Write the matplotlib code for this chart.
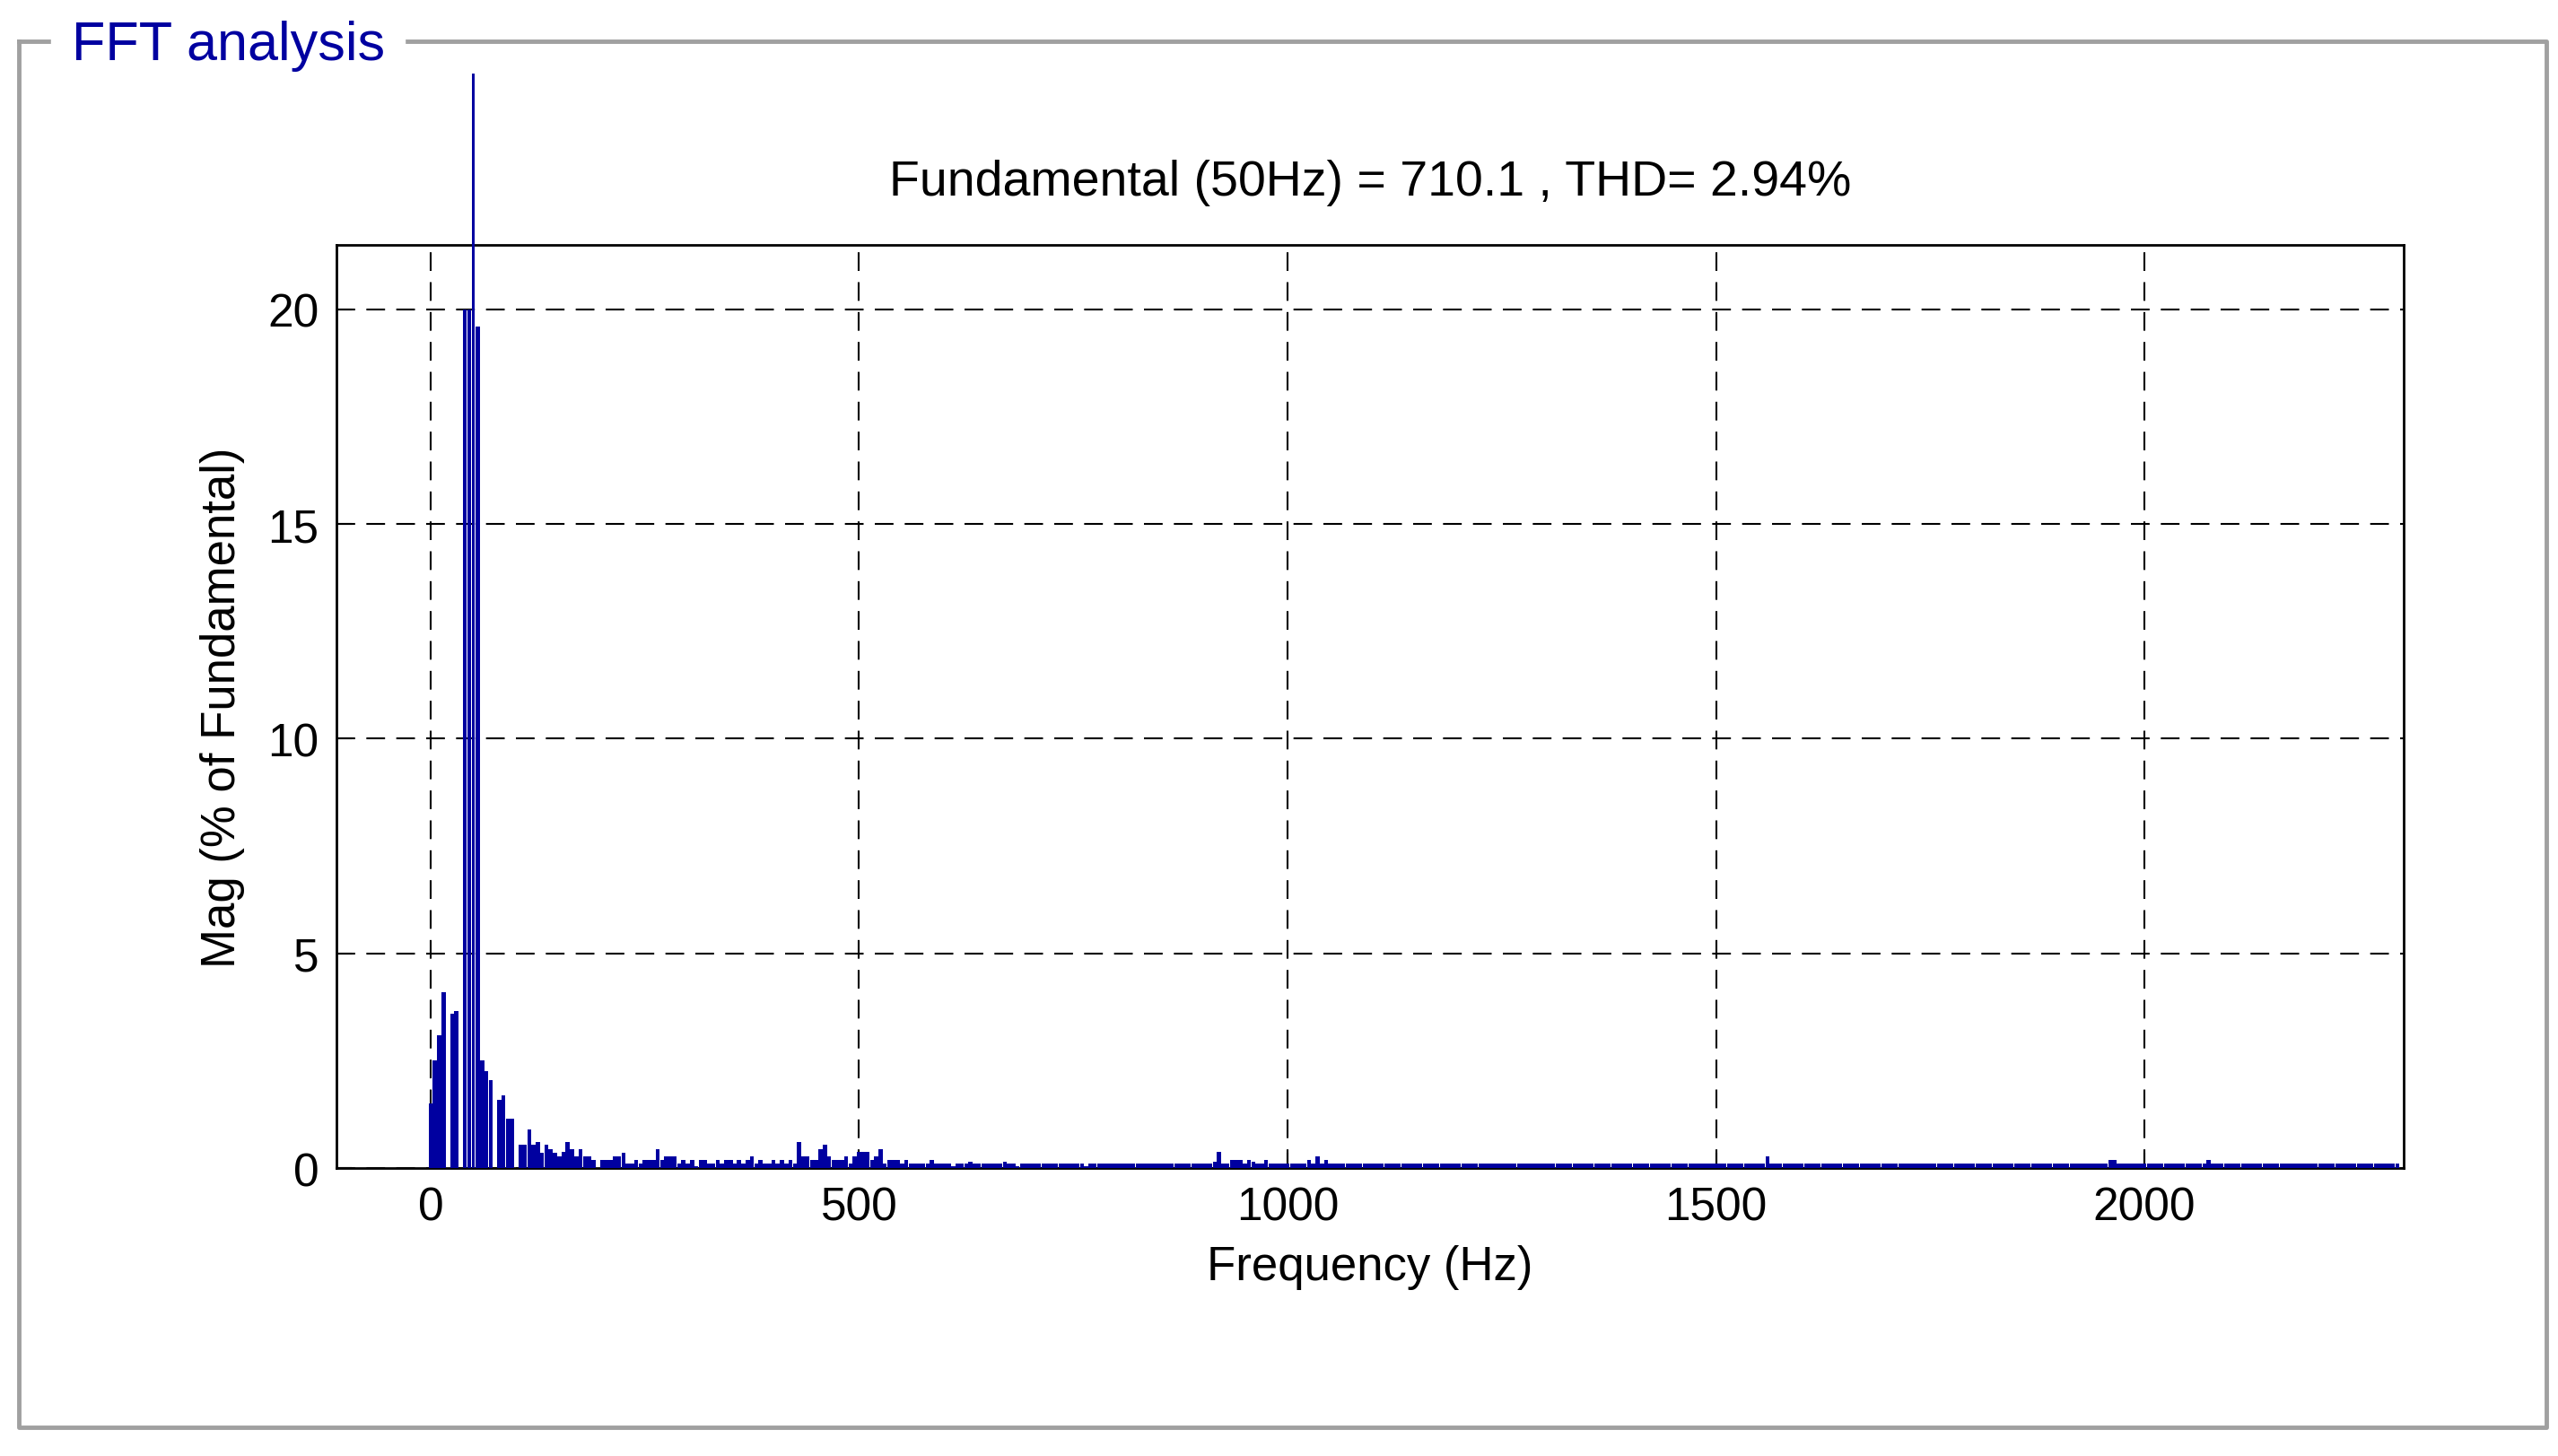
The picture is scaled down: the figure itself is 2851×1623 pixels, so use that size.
import numpy as np
import matplotlib.pyplot as plt
from matplotlib.lines import Line2D

# FFT bins (5 Hz resolution), magnitude in % of fundamental
bin_step = 5
mag_low = [1.5, 2.5, 3.1, 4.1, 0.0, 3.6, 3.65, 0.0, 20.0, 20.0,   # 0-45
           25.5, 19.6, 2.5, 2.25, 2.05, 0.0, 1.6, 1.7, 1.15, 1.15,  # 50-95
           0.0, 0.55, 0.55, 0.9, 0.55, 0.6, 0.35, 0.55, 0.45, 0.35,  # 100-145
           0.27, 0.37, 0.6, 0.45, 0.27, 0.45, 0.27, 0.27, 0.18, 0.0,  # 150-195
           0.18, 0.18, 0.18, 0.27, 0.27, 0.35, 0.1, 0.1, 0.18, 0.1,   # 200-245
           0.18, 0.18, 0.18, 0.45, 0.18, 0.27, 0.27, 0.27, 0.1, 0.18,  # 250-295
           0.1, 0.18, 0.05, 0.18, 0.18, 0.1, 0.1, 0.18, 0.1, 0.18,    # 300-345
           0.18, 0.1, 0.18, 0.1, 0.18, 0.27, 0.1, 0.18, 0.1, 0.1,     # 350-395
           0.18, 0.1, 0.18, 0.1, 0.18, 0.1, 0.6, 0.27, 0.27, 0.18,    # 400-445
           0.18, 0.45, 0.55, 0.27, 0.18, 0.18, 0.18, 0.27, 0.1, 0.27,  # 450-495
           0.37, 0.37, 0.37, 0.18, 0.27, 0.45, 0.1, 0.18, 0.18, 0.18,  # 500-545
           0.1, 0.18, 0.1, 0.1, 0.1, 0.1, 0.1, 0.18, 0.1, 0.1]        # 550-595
mag_600_900 = [0.1, 0.1, 0.05, 0.1, 0.1, 0.1, 0.15, 0.1, 0.1, 0.1,
               0.1, 0.1, 0.1, 0.1, 0.15, 0.1, 0.1, 0.05, 0.1, 0.1,
               0.1, 0.1, 0.1, 0.1, 0.1, 0.1, 0.1, 0.1, 0.1, 0.1,
               0.1, 0.1, 0.1, 0.05, 0.1, 0.1, 0.1, 0.1, 0.1, 0.1,
               0.1, 0.1, 0.1, 0.1, 0.1, 0.1, 0.1, 0.1, 0.1, 0.1,
               0.1, 0.1, 0.1, 0.1, 0.1, 0.1, 0.1, 0.1, 0.1, 0.1]
mag_900_1100 = [0.1, 0.1, 0.1, 0.15, 0.37, 0.1, 0.1, 0.2, 0.2, 0.2,
                0.1, 0.2, 0.15, 0.1, 0.1, 0.2, 0.1, 0.1, 0.1, 0.1,
                0.1, 0.1, 0.1, 0.1, 0.1, 0.2, 0.1, 0.28, 0.1, 0.2,
                0.1, 0.1, 0.1, 0.1, 0.1, 0.1, 0.1, 0.1, 0.1, 0.1]
mag_1100_1600 = [0.1] * 80 + [0.1, 0.1, 0.1, 0.1, 0.1, 0.1, 0.1, 0.1, 0.1, 0.1,
                              0.1, 0.1, 0.28, 0.1, 0.1, 0.1, 0.1, 0.1, 0.1, 0.1]
mag_1600_2300 = [0.1] * 70 + [0.1, 0.1, 0.2, 0.2, 0.1, 0.1, 0.1, 0.1, 0.1, 0.1] \
    + [0.1] * 15 + [0.2, 0.1, 0.1, 0.1, 0.1] + [0.1] * 40

mags = np.array(mag_low + mag_600_900 + mag_900_1100 + mag_1100_1600 + mag_1600_2300)
freqs = np.arange(len(mags)) * bin_step
fund_idx = 10

xticks = [0, 500, 1000, 1500, 2000]
yticks = [0, 5, 10, 15, 20]
bar_color = "#0000A0"

plt.rcParams['font.family'] = ['Liberation Sans', 'DejaVu Sans']
fig = plt.figure(figsize=(28.51, 16.24), dpi=100)

# panel frame with title
fig.add_artist(Line2D([0.0074, 0.0074, 0.9955, 0.9955, 0.0074],
                      [0.9712, 0.0197, 0.0197, 0.9712, 0.9712],
                      color="#A0A0A0", lw=3.5, transform=fig.transFigure))
fig.text(0.022, 0.968, " FFT analysis ", color=bar_color, fontsize=44,
         va='center', ha='left', backgroundcolor='white')

ax = fig.add_axes([0.1315, 0.1976, 0.808, 0.6337])
other = np.arange(len(mags)) != fund_idx
ax.bar(freqs[other], mags[other], width=4.8, color=bar_color, align='center', zorder=3)
ax.bar(freqs[fund_idx], mags[fund_idx], width=3.5, color=bar_color, clip_on=False, zorder=4)

ax.set_xlim(-110, 2302)
ax.set_ylim(0, 21.5)
ax.set_xticks(xticks)
ax.set_yticks(yticks)
ax.tick_params(direction='in', length=12, width=1.5, labelsize=37, pad=14)
ax.grid(True, color='black', linestyle=(0, (10, 6)), linewidth=1.5)
for s in ax.spines.values():
    s.set_linewidth(2)

ax.set_xlabel("Frequency (Hz)", fontsize=38, labelpad=12)
ax.set_ylabel("Mag (% of Fundamental)", fontsize=38, labelpad=18)
ax.set_title("Fundamental (50Hz) = 710.1 , THD= 2.94%", fontsize=40, pad=40)

fig.savefig("out.png", dpi=100)
